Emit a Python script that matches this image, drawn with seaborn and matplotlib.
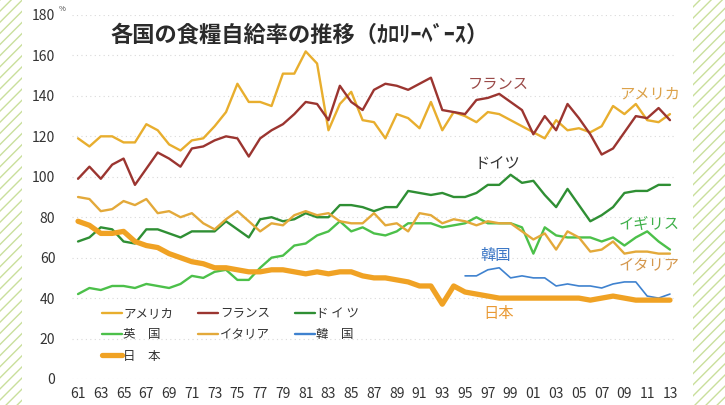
import numpy as np
import pandas as pd
import matplotlib
matplotlib.use("Agg")
import matplotlib.pyplot as plt
import seaborn as sns
from matplotlib.patches import Rectangle
from matplotlib.lines import Line2D

# ---------------- data ----------------
years = list(range(1961, 2014))
usa = [119, 115, 120, 120, 117, 117, 126, 123, 116, 113,
       118, 119, 125, 132, 146, 137, 137, 135, 151, 151,
       162, 156, 123, 136, 142, 128, 127, 119, 131, 129,
       124, 137, 123, 132, 130, 127, 132, 131, 128, 125,
       122, 119, 128, 123, 124, 122, 125, 135, 131, 136,
       128, 127, 131]
france = [99, 105, 99, 106, 109, 96, 104, 112, 109, 105,
          114, 115, 118, 120, 119, 110, 119, 123, 126, 131,
          137, 136, 128, 145, 137, 133, 143, 146, 145, 143,
          146, 149, 133, 132, 131, 138, 139, 141, 137, 133,
          121, 130, 123, 136, 129, 121, 111, 114, 122, 130,
          129, 134, 128]
germany = [68, 70, 75, 74, 68, 67, 74, 74, 72, 70,
           73, 73, 73, 78, 74, 70, 79, 80, 78, 79,
           82, 80, 80, 86, 86, 85, 83, 85, 85, 93,
           92, 91, 92, 90, 90, 92, 96, 96, 101, 97,
           98, 91, 85, 94, 86, 78, 81, 85, 92, 93,
           93, 96, 96]
uk = [42, 45, 44, 46, 46, 45, 47, 46, 45, 47,
      51, 50, 53, 54, 49, 49, 55, 60, 61, 66,
      67, 71, 73, 78, 73, 75, 72, 71, 73, 77,
      77, 77, 75, 76, 77, 80, 77, 77, 77, 75,
      62, 75, 71, 70, 70, 70, 68, 70, 66, 70,
      73, 68, 64]
italy = [90, 89, 83, 84, 88, 86, 89, 82, 83, 80,
         82, 77, 74, 79, 83, 78, 73, 77, 76, 81,
         83, 81, 82, 78, 77, 77, 82, 76, 77, 73,
         82, 81, 77, 79, 78, 76, 78, 77, 77, 73,
         69, 72, 64, 73, 70, 63, 64, 68, 62, 63,
         63, 62, 62]
korea_years = list(range(1995, 2014))
korea = [51, 51, 54, 55, 50, 51, 50, 50, 46, 47,
         46, 46, 45, 47, 48, 48, 41, 40, 42]
japan = [78, 76, 72, 72, 73, 68, 66, 65, 62, 60,
         58, 57, 55, 55, 54, 53, 53, 54, 54, 53,
         52, 53, 52, 53, 53, 51, 50, 50, 49, 48,
         46, 46, 37, 46, 43, 42, 41, 40, 40, 40,
         40, 40, 40, 40, 40, 39, 40, 41, 40, 39,
         39, 39, 39]

legend_names = ["アメリカ", "フランス", "ド イ ツ", "英　国", "イタリア", "韓　国", "日　本"]
line_labels = ["アメリカ", "フランス", "ドイツ", "イギリス", "イタリア", "韓国", "日本"]
yticks = [0, 20, 40, 60, 80, 100, 120, 140, 160, 180]
xticks = list(range(1961, 2014, 2))
xticklabels = [f"{y % 100:02d}" for y in xticks]

# ---------------- style ----------------
sns.set_theme(style="white")
plt.rcParams["font.family"] = ["Noto Sans CJK JP", "DejaVu Sans"]
plt.rcParams["hatch.linewidth"] = 1.0

fig = plt.figure(figsize=(7.25, 4.05), dpi=100)
fig.patch.set_facecolor("white")

# decorative hatched side strips
for x0, w in [(0.0, 22 / 725), (693 / 725, 32 / 725)]:
    fig.patches.append(Rectangle((x0, 0), w, 1, transform=fig.transFigure,
                                 facecolor="white", edgecolor="#c9df9c",
                                 hatch="///", lw=0, zorder=0))

ax = fig.add_axes([72 / 725, 26 / 405, 604 / 725, 364 / 405])
ax.set_facecolor("none")

c_usa = "#e8ae2e"
c_fra = "#9b3530"
c_ger = "#2f8f34"
c_uk = "#4cc04a"
c_ita = "#e3a93a"
c_kor = "#3f82cf"
c_jpn = "#f0a224"

series = [
    (years, usa, c_usa, 1.7),
    (years, france, c_fra, 1.7),
    (years, germany, c_ger, 1.7),
    (years, uk, c_uk, 1.7),
    (years, italy, c_ita, 1.7),
    (korea_years, korea, c_kor, 1.2),
    (years, japan, c_jpn, 3.8),
]
for xs, ys, c, lw in series:
    sns.lineplot(x=xs, y=ys, color=c, linewidth=lw, ax=ax, legend=False)

ax.set_xlim(1960.47, 2013.53)
ax.set_ylim(0, 180)
ax.set_yticks(yticks)
ax.set_yticklabels([str(v) for v in yticks], fontsize=10, color="#333333")
ax.set_xticks(xticks)
ax.set_xticklabels(xticklabels, fontsize=10, color="#333333")
ax.tick_params(axis="y", length=0, pad=12)
ax.tick_params(axis="x", length=0, pad=6)
for s in ax.spines.values():
    s.set_visible(False)
for v in yticks:
    ax.axhline(v, color="#d9d9d9", lw=0.8, ls=(0, (1, 3)), zorder=0)
ax.set_xlabel("")
ax.set_ylabel("")

# percent sign
fig.text(62 / 725, 1 - 9 / 405, "%", fontsize=5.5, color="#444444",
         ha="center", va="center")

# title
fig.text(110 / 725, 1 - 35 / 405, "各国の食糧自給率の推移（ｶﾛﾘｰﾍﾞｰｽ）",
         fontsize=16, fontweight="bold", color="#2b2b2b", ha="left", va="center")

# in-plot labels
labs = [
    ("フランス", 1997.9, 146, "#9a4a48"),
    ("アメリカ", 2011.2, 141, "#dca24a"),
    ("ドイツ", 1997.8, 106.5, "#333333"),
    ("イギリス", 2011.2, 77, "#3fb04a"),
    ("韓国", 1997.7, 61, "#3d78c6"),
    ("イタリア", 2011.2, 56, "#d4974c"),
    ("日本", 1997.9, 32.5, "#e99a35"),
]
for t, x, y, c in labs:
    ax.text(x, y, t, fontsize=11, color=c, ha="center", va="center")

# legend (row-major visual order via column-major handle order)
handles = {
    "アメリカ": Line2D([], [], color=c_usa, lw=1.7),
    "フランス": Line2D([], [], color=c_fra, lw=1.7),
    "ド イ ツ": Line2D([], [], color=c_ger, lw=1.7),
    "英　国": Line2D([], [], color=c_uk, lw=1.7),
    "イタリア": Line2D([], [], color=c_ita, lw=1.7),
    "韓　国": Line2D([], [], color=c_kor, lw=1.7),
    "日　本": Line2D([], [], color=c_jpn, lw=3.8),
}
order = ["アメリカ", "英　国", "日　本", "フランス", "イタリア", "ド イ ツ", "韓　国"]
ax.legend([handles[k] for k in order], order, ncol=3, frameon=False,
          loc="upper left", bbox_to_anchor=(0.05, 0.197), fontsize=9,
          handlelength=1.6, handletextpad=0.1, columnspacing=2.0,
          labelspacing=0.65, borderaxespad=0, borderpad=0,
          labelcolor="#333333")

fig.savefig("out.png", dpi=100)
